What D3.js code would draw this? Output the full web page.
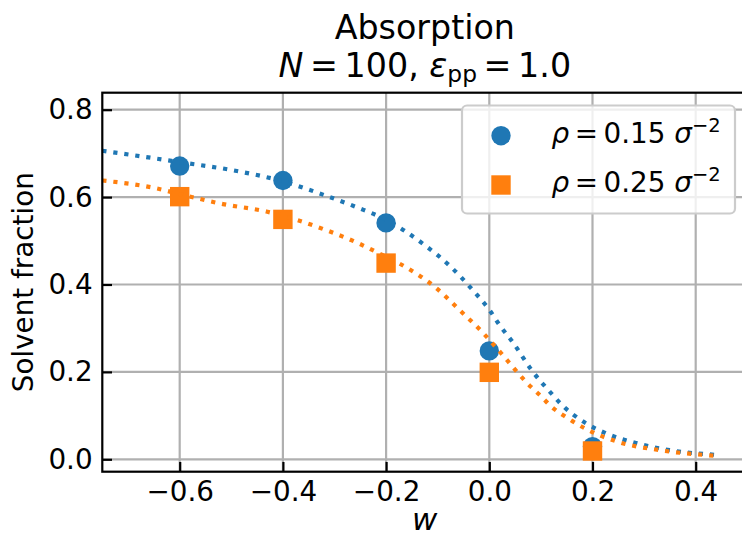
<!DOCTYPE html>
<html>
<head>
<meta charset="utf-8">
<script src="https://cdn.jsdelivr.net/npm/d3@7"></script>
<style>
  html, body { margin: 0; padding: 0; background: #fff; }
  svg { display: block; overflow: hidden; }
  text { font-family: "DejaVu Sans", sans-serif; fill: #000; }
</style>
</head>
<body>
<div id="chart"></div>
<script>
// simulation points
const wValues = [-0.6, -0.4, -0.2, 0.0, 0.2]
const fracRho015 = [0.671, 0.638, 0.541, 0.248, 0.029]
const fracRho025 = [0.601, 0.549, 0.449, 0.199, 0.019]

// dotted fit curves
const fitW015 = [-0.75, -0.65, -0.6, -0.5, -0.4, -0.316, -0.255, -0.2, -0.125, -0.076, -0.032, 0.0, 0.02, 0.046, 0.082, 0.123, 0.136, 0.188, 0.227, 0.285, 0.349, 0.44]
const fitFrac015 = [0.706, 0.689, 0.680, 0.662, 0.636, 0.603, 0.576, 0.548, 0.490, 0.442, 0.387, 0.342, 0.307, 0.267, 0.204, 0.147, 0.130, 0.082, 0.059, 0.037, 0.021, 0.010]
const fitW025 = [-0.75, -0.645, -0.6, -0.516, -0.432, -0.374, -0.313, -0.253, -0.213, -0.158, -0.106, -0.058, -0.012, 0.03, 0.072, 0.103, 0.117, 0.152, 0.188, 0.249, 0.33, 0.417, 0.44]
const fitFrac025 = [0.638, 0.620, 0.607, 0.584, 0.567, 0.548, 0.523, 0.494, 0.471, 0.437, 0.395, 0.342, 0.289, 0.233, 0.176, 0.141, 0.124, 0.094, 0.069, 0.040, 0.021, 0.010, 0.008]

const densities = ["0.15", "0.25"]
const xTicks = [-0.6, -0.4, -0.2, 0.0, 0.2, 0.4]
const yTicks = [0.0, 0.2, 0.4, 0.6, 0.8]

const width = 742
const height = 538
const box = { left: 102.3, right: 747.3, top: 92.7, bottom: 471.7 }
const blue = "#1f77b4"
const orange = "#ff7f0e"
const fs = 27.8
const thin = "\u2009"

const x = d3.scaleLinear().domain([-0.75, 0.5]).range([box.left, box.right])
const y = d3.scaleLinear().domain([-0.0284, 0.8389]).range([box.bottom, box.top])

const svg = (
  d3.select("#chart")
  .append("svg")
  .attr("width", width)
  .attr("height", height)
)

// grid
const grid = svg.append("g").attr("stroke", "#b0b0b0").attr("stroke-width", 2.2)
grid.selectAll(".gx")
  .data(xTicks)
  .join("line")
  .attr("x1", d => x(d)).attr("x2", d => x(d))
  .attr("y1", box.top).attr("y2", box.bottom)
grid.selectAll(".gy")
  .data(yTicks)
  .join("line")
  .attr("x1", box.left).attr("x2", box.right)
  .attr("y1", d => y(d)).attr("y2", d => y(d))

const fmtX = d => (d < 0 ? "\u2212" : "") + Math.abs(d).toFixed(1)

const xAxis = (
  svg.append("g")
  .attr("transform", `translate(0,${box.bottom})`)
  .call(d3.axisBottom(x).tickValues(xTicks).tickFormat(fmtX).tickSize(-9.7).tickPadding(9.7))
)
const yAxis = (
  svg.append("g")
  .attr("transform", `translate(${box.left},0)`)
  .call(d3.axisLeft(y).tickValues(yTicks).tickFormat(d => d.toFixed(1)).tickSize(-9.7).tickPadding(9.7))
)
for (const ax of [xAxis, yAxis]) {
  ax.select(".domain").remove()
  ax.selectAll(".tick line").attr("stroke", "#000").attr("stroke-width", 2.2)
  ax.selectAll(".tick text").attr("font-size", fs).attr("font-family", "DejaVu Sans")
}

// markers (drawn before the fit curves)
const circles = (
  svg.append("g")
  .attr("fill", blue)
  .selectAll("circle")
  .data(wValues.map((w, i) => [w, fracRho015[i]]))
  .join("circle")
  .attr("cx", d => x(d[0]))
  .attr("cy", d => y(d[1]))
  .attr("r", 9.7)
)
const squares = (
  svg.append("g")
  .attr("fill", orange)
  .selectAll("rect")
  .data(wValues.map((w, i) => [w, fracRho025[i]]))
  .join("rect")
  .attr("x", d => x(d[0]) - 9.7)
  .attr("y", d => y(d[1]) - 9.7)
  .attr("width", 19.4)
  .attr("height", 19.4)
)

const line = d3.line().x(d => x(d[0])).y(d => y(d[1])).curve(d3.curveMonotoneX)
const fits = [
  { w: fitW015, f: fitFrac015, color: blue },
  { w: fitW025, f: fitFrac025, color: orange }
]
svg.append("g")
  .selectAll("path")
  .data(fits)
  .join("path")
  .attr("d", d => line(d.w.map((w, i) => [w, d.f[i]])))
  .attr("fill", "none")
  .attr("stroke", d => d.color)
  .attr("stroke-width", 4.2)
  .attr("stroke-dasharray", "4.2,6.9")

// spines
svg.append("rect")
  .attr("x", box.left).attr("y", box.top)
  .attr("width", box.right - box.left)
  .attr("height", box.bottom - box.top)
  .attr("fill", "none")
  .attr("stroke", "#000")
  .attr("stroke-width", 2.2)

// title
const cx = (box.left + box.right) / 2
svg.append("text")
  .attr("x", cx).attr("y", 39)
  .attr("text-anchor", "middle")
  .attr("font-size", 33.3)
  .text("Absorption")
const t2 = (
  svg.append("text")
  .attr("x", cx).attr("y", 77)
  .attr("text-anchor", "middle")
  .attr("font-size", 33.3)
)
t2.append("tspan").attr("font-style", "italic").text("N")
t2.append("tspan").text(`${thin}=${thin}100, `)
t2.append("tspan").attr("font-style", "italic").text("ε")
t2.append("tspan").attr("font-size", 23.3).attr("dy", 5).text("pp")
t2.append("tspan").attr("dy", -5).text(`${thin}=${thin}1.0`)

// axis labels
svg.append("text")
  .attr("x", cx).attr("y", 530)
  .attr("text-anchor", "middle")
  .attr("font-size", 31)
  .attr("font-style", "italic")
  .text("w")
svg.append("text")
  .attr("transform", `translate(33,${(box.top + box.bottom) / 2}) rotate(-90)`)
  .attr("text-anchor", "middle")
  .attr("font-size", fs)
  .text("Solvent fraction")

// legend
const legend = svg.append("g")
legend.append("rect")
  .attr("x", 462).attr("y", 105.5)
  .attr("width", 273).attr("height", 108)
  .attr("rx", 5)
  .attr("fill", "#fff").attr("fill-opacity", 0.8)
  .attr("stroke", "#cccccc").attr("stroke-width", 2.2)

const rows = [135.7, 185]
legend.append("circle").attr("cx", 501).attr("cy", rows[0]).attr("r", 9.7).attr("fill", blue)
legend.append("rect").attr("x", 501 - 9.7).attr("y", rows[1] - 9.7).attr("width", 19.4).attr("height", 19.4).attr("fill", orange)

densities.forEach((rho, i) => {
  const t = (
    legend.append("text")
    .attr("x", 551.5)
    .attr("y", rows[i] + 7.2)
    .attr("font-size", fs)
  )
  t.append("tspan").attr("font-style", "italic").text("ρ")
  t.append("tspan").text(`${thin}=${thin}${rho} `)
  t.append("tspan").attr("font-style", "italic").text("σ")
  t.append("tspan").attr("font-size", 19.5).attr("dy", -11).text("\u22122")
})
</script>
</body>
</html>
